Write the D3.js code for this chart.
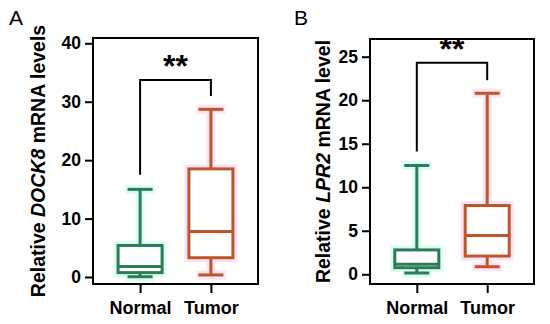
<!DOCTYPE html>
<html>
<head>
<meta charset="utf-8">
<script src="https://cdn.jsdelivr.net/npm/d3@7"></script>
<style>
  body { margin: 0; background: #fff; }
  text { font-family: "Liberation Sans", Arial, sans-serif; }
</style>
</head>
<body>
<svg id="chart" width="550" height="324"></svg>
<script>
const groups = ['Normal', 'Tumor'];

// panel A: DOCK8
const dockMin = [0.05, 0.35];
const dockQ1 = [0.75, 3.3];
const dockMed = [1.8, 7.8];
const dockQ3 = [5.4, 18.5];
const dockMax = [15.0, 28.7];
const dockTicks = [0, 10, 20, 30, 40];
const dockBracket = [17.5, 33.7, 31.0]; // left leg, top, right leg

// panel B: LPR2
const lprMin = [0.15, 0.87];
const lprQ1 = [0.76, 2.1];
const lprMed = [1.15, 4.45];
const lprQ3 = [2.8, 7.9];
const lprMax = [12.5, 20.8];
const lprTicks = [0, 5, 10, 15, 20, 25];
const lprBracket = [14.1, 24.3, 22.3];

const colors = ['#2b7d54', '#bf5529'];
const halos = ['#dcfcf5', '#fde3f6'];

const svg = d3.select('#chart');

function drawPanel(opt) {
  const g = svg.append('g');

  const y = d3.scaleLinear()
  .domain([0, d3.max(opt.ticks)])
  .range([opt.y0, opt.yTop]);

  const x = d3.scalePoint()
  .domain(groups)
  .range([opt.left, opt.right])
  .padding(0.665);

  // y axis
  const yAxis = g.append('g')
  .attr('transform', `translate(${opt.left}, 0)`)
  .call(d3.axisLeft(y).tickValues(opt.ticks).tickSize(8).tickPadding(4));
  yAxis.select('.domain').remove();
  yAxis.selectAll('line').attr('stroke', '#000').attr('stroke-width', 2);
  yAxis.selectAll('text')
  .style('font-size', '17.5px')
  .style('font-weight', 'bold')
  .attr('fill', '#000');

  // x axis
  const xAxis = g.append('g')
  .attr('transform', `translate(0, ${opt.bottom})`)
  .call(d3.axisBottom(x).tickSize(9).tickPadding(8));
  xAxis.select('.domain').remove();
  xAxis.selectAll('line').attr('stroke', '#000').attr('stroke-width', 2);
  xAxis.selectAll('text')
  .style('font-size', '18px')
  .style('font-weight', 'bold')
  .attr('fill', '#000');

  // frame
  g.append('rect')
  .attr('x', opt.left)
  .attr('y', opt.top)
  .attr('width', opt.right - opt.left)
  .attr('height', opt.bottom - opt.top)
  .attr('fill', 'none')
  .attr('stroke', '#000')
  .attr('stroke-width', 2);

  const boxW = 44;
  const capW = 25;

  groups.forEach((grp, i) => {
    const cx = x(grp);
    const s = opt.stats;
    const halo = g.append('g')
    .attr('stroke', halos[i])
    .attr('fill', 'none')
    .attr('stroke-width', 9);
    halo.append('line')
    .attr('x1', cx).attr('x2', cx)
    .attr('y1', y(s.max[i])).attr('y2', y(s.min[i]));
    halo.append('line')
    .attr('x1', cx - capW / 2 - 2).attr('x2', cx + capW / 2 + 2)
    .attr('y1', y(s.max[i])).attr('y2', y(s.max[i]));
    halo.append('line')
    .attr('x1', cx - capW / 2 - 2).attr('x2', cx + capW / 2 + 2)
    .attr('y1', y(s.min[i])).attr('y2', y(s.min[i]));
    halo.append('rect')
    .attr('x', cx - boxW / 2)
    .attr('y', y(s.q3[i]))
    .attr('width', boxW)
    .attr('height', y(s.q1[i]) - y(s.q3[i]));

    const b = g.append('g')
    .attr('stroke', colors[i])
    .attr('stroke-width', 3);
    b.append('line')
    .attr('x1', cx).attr('x2', cx)
    .attr('y1', y(s.max[i])).attr('y2', y(s.q3[i]));
    b.append('line')
    .attr('x1', cx).attr('x2', cx)
    .attr('y1', y(s.q1[i])).attr('y2', y(s.min[i]));
    b.append('line')
    .attr('x1', cx - capW / 2).attr('x2', cx + capW / 2)
    .attr('y1', y(s.max[i])).attr('y2', y(s.max[i]));
    b.append('line')
    .attr('x1', cx - capW / 2).attr('x2', cx + capW / 2)
    .attr('y1', y(s.min[i])).attr('y2', y(s.min[i]));
    b.append('rect')
    .attr('x', cx - boxW / 2)
    .attr('y', y(s.q3[i]))
    .attr('width', boxW)
    .attr('height', y(s.q1[i]) - y(s.q3[i]))
    .attr('fill', '#fff');
    b.append('line')
    .attr('x1', cx - boxW / 2).attr('x2', cx + boxW / 2)
    .attr('y1', y(s.med[i])).attr('y2', y(s.med[i]));
  });

  // significance bracket
  const br = opt.bracket;
  g.append('path')
  .attr('d', `M${x(groups[0])},${y(br[0])}V${y(br[1])}H${x(groups[1])}V${y(br[2])}`)
  .attr('fill', 'none')
  .attr('stroke', '#000')
  .attr('stroke-width', 2);

  g.append('text')
  .attr('x', (x(groups[0]) + x(groups[1])) / 2)
  .attr('y', y(br[1]) - 3)
  .attr('text-anchor', 'middle')
  .style('font-size', '32px')
  .style('font-weight', 'bold')
  .text('**');

  // y label
  const lab = g.append('text')
  .attr('transform', `translate(${opt.labelX}, ${(opt.top + opt.bottom) / 2}) rotate(-90)`)
  .attr('text-anchor', 'middle')
  .style('font-size', '19.5px')
  .style('font-weight', 'bold');
  lab.append('tspan').text('Relative ');
  lab.append('tspan').style('font-style', 'italic').text(opt.gene);
  lab.append('tspan').text(opt.tail);

  // panel letter
  svg.append('text')
  .attr('x', opt.letterX)
  .attr('y', 25)
  .style('font-size', '21px')
  .text(opt.letter);
}

drawPanel({
  stats: {min: dockMin, q1: dockQ1, med: dockMed, q3: dockQ3, max: dockMax},
  ticks: dockTicks,
  bracket: dockBracket,
  left: 93, right: 258, top: 38, bottom: 284,
  y0: 277, yTop: 43.3,
  labelX: 45, gene: 'DOCK8', tail: ' mRNA levels',
  letter: 'A', letterX: 9
});

drawPanel({
  stats: {min: lprMin, q1: lprQ1, med: lprMed, q3: lprQ3, max: lprMax},
  ticks: lprTicks,
  bracket: lprBracket,
  left: 370, right: 534, top: 39, bottom: 284,
  y0: 274.3, yTop: 56.7,
  labelX: 330, gene: 'LPR2', tail: ' mRNA level',
  letter: 'B', letterX: 294
});
</script>
</body>
</html>
